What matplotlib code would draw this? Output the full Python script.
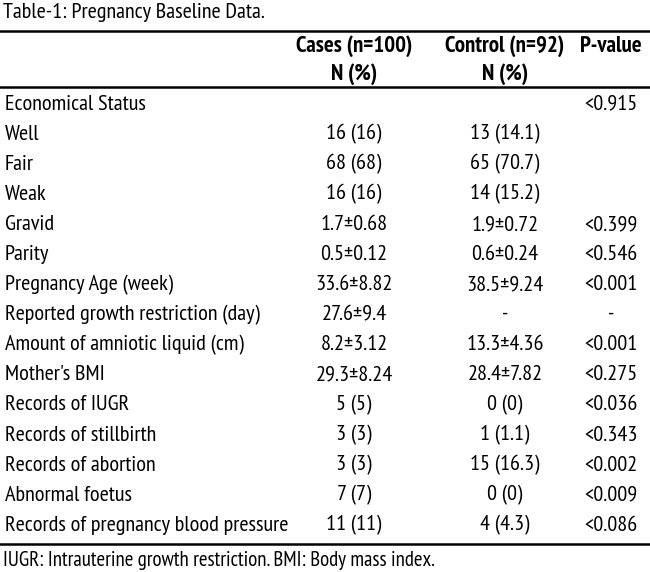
import matplotlib
matplotlib.use("Agg")
import matplotlib.pyplot as plt

title = "Table-1: Pregnancy Baseline Data."
footnote = "IUGR: Intrauterine growth restriction. BMI: Body mass index."

headers = ["Cases (n=100)", "Control (n=92)", "P-value"]
subheaders = ["N (%)", "N (%)", ""]

row_labels = [
    "Economical Status", "Well", "Fair", "Weak", "Gravid", "Parity",
    "Pregnancy Age (week)", "Reported growth restriction (day)",
    "Amount of amniotic liquid (cm)", "Mother's BMI", "Records of IUGR",
    "Records of stillbirth", "Records of abortion", "Abnormal foetus",
    "Records of pregnancy blood pressure",
]
cases = ["", "16 (16)", "68 (68)", "16 (16)", "1.7\u00b10.68", "0.5\u00b10.12",
         "33.6\u00b18.82", "27.6\u00b19.4", "8.2\u00b13.12", "29.3\u00b18.24",
         "5 (5)", "3 (3)", "3 (3)", "7 (7)", "11 (11)"]
control = ["", "13 (14.1)", "65 (70.7)", "14 (15.2)", "1.9\u00b10.72", "0.6\u00b10.24",
           "38.5\u00b19.24", "-", "13.3\u00b14.36", "28.4\u00b17.82",
           "0 (0)", "1 (1.1)", "15 (16.3)", "0 (0)", "4 (4.3)"]
pvalue = ["<0.915", "", "", "", "<0.399", "<0.546", "<0.001", "-", "<0.001",
          "<0.275", "<0.036", "<0.343", "<0.002", "<0.009", "<0.086"]

W, H = 650, 572
fig = plt.figure(figsize=(W / 100, H / 100), dpi=100)
ax = fig.add_axes([0, 0, 1, 1])
ax.set_xlim(0, W)
ax.set_ylim(H, 0)
ax.axis("off")

fam = ["PT Sans Narrow", "Liberation Sans", "DejaVu Sans"]
fs = 16
col_x = [354, 505, 611]

ax.text(3, 13, title, fontsize=16, family=fam, va="center", ha="left")
ax.axhline(31, color="black", lw=1.8)
for x, h, s in zip(col_x, headers, subheaders):
    ax.text(x, 46, h, fontsize=16.5, family=fam, weight="bold", va="center", ha="center")
    if s:
        ax.text(x, 74, s, fontsize=16.5, family=fam, weight="bold", va="center", ha="center")
ax.axhline(87, color="black", lw=1.8)

y0, dy = 104, 30.1
for i, lab in enumerate(row_labels):
    y = y0 + i * dy
    ax.text(5, y, lab, fontsize=fs, family=fam, va="center", ha="left")
    for x, val in zip(col_x, (cases[i], control[i], pvalue[i])):
        if val:
            ax.text(x, y, val, fontsize=fs, family=fam, va="center", ha="center")

ax.axhline(544, color="black", lw=1.8)
ax.text(3, 561, footnote, fontsize=15, family=fam, va="center", ha="left")

fig.savefig("out.png", dpi=100)
